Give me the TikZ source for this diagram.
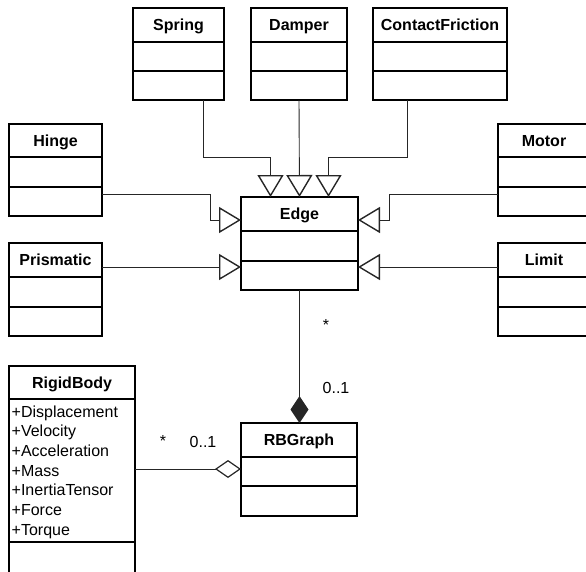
\documentclass[tikz,border=0pt]{standalone}
\usepackage{fontspec}
\setmainfont{Liberation Sans}
\usetikzlibrary{calc,arrows.meta}
\tikzset{
  clsbox/.style={draw, line width=1.5pt, inner sep=0pt, outer sep=0pt, anchor=north west},
  clsline/.style={line width=1.5pt},
  ttl/.style={font=\fontsize{16}{19}\selectfont\bfseries, inner sep=0pt, anchor=base},
  attr/.style={font=\fontsize{16}{19}\selectfont, inner sep=0pt, anchor=base west},
  mult/.style={font=\fontsize{16}{19}\selectfont, inner sep=0pt, anchor=base},
  conn/.style={line width=0.9pt, draw=black!85},
  gen/.style={conn, -{Triangle[open, length=22pt, width=26pt, line width=1.4pt]}},
  comp/.style={conn, -{Diamond[length=27pt, width=18pt, line width=1.2pt]}},
  aggr/.style={conn, -{Diamond[open, length=26pt, width=18pt, line width=1.2pt]}},
}
% name, x, y, w, h, d1, d2, title
\newcommand\umlcls[8]{%
  \node[clsbox, minimum width=#4, minimum height=#5] (#1) at (#2,#3) {};
  \node[ttl] (#1-t) at ($(#1.north)+(0,#6/2+5.8)$) {#8};
  \draw[clsline] ($(#1.north west)+(0,#6)$) -- ($(#1.north east)+(0,#6)$);
  \draw[clsline] ($(#1.north west)+(0,#7)$) -- ($(#1.north east)+(0,#7)$);
}
\begin{document}
\begin{tikzpicture}[x=1pt,y=-1pt]
\useasboundingbox (0,0) rectangle (586,571);
\umlcls{spring}{133}{8}{91}{92}{34}{63}{Spring}
\umlcls{damper}{251}{8}{96}{92}{34}{63}{Damper}
\umlcls{cf}{373}{8}{134}{92}{34}{63}{ContactFriction}
\umlcls{hinge}{9}{124}{93}{92}{33}{63}{Hinge}
\umlcls{motor}{498}{124}{92}{92}{33}{63}{Motor}
\umlcls{prism}{9}{243}{93}{93}{34}{64}{Prismatic}
\umlcls{limit}{498}{243}{92}{93}{34}{64}{Limit}
\umlcls{edge}{241}{197}{117}{93}{34}{64}{Edge}
\umlcls{rbg}{241}{423}{116}{93}{34}{63}{RBGraph}
\umlcls{rb}{9}{366}{126}{220}{33}{176}{RigidBody}

\node[attr] (a1) at ($(rb.north west)+(2.5,51)$) {+Displacement};
\node[attr] (a2) at ($(a1.base west)+(0,19.7)$) {+Velocity};
\node[attr] (a3) at ($(a2.base west)+(0,19.7)$) {+Acceleration};
\node[attr] (a4) at ($(a3.base west)+(0,19.7)$) {+Mass};
\node[attr] (a5) at ($(a4.base west)+(0,19.7)$) {+InertiaTensor};
\node[attr] (a6) at ($(a5.base west)+(0,19.7)$) {+Force};
\node[attr] (a7) at ($(a6.base west)+(0,19.7)$) {+Torque};

% generalizations
\coordinate (sp0) at ($(spring.south east)+(-21,0)$);
\coordinate (cf0) at ($(cf.south west)+(34,0)$);
\draw[gen] (sp0) |- ($(edge.north)+(-29,-40)$) -- ($(edge.north)+(-29,0)$);
\draw[gen] (damper.south) -- (edge.north);
\draw[gen] (cf0) |- ($(edge.north)+(29,-40)$) -- ($(edge.north)+(29,0)$);
\draw[gen] ($(hinge.north east)+(0,70)$) -- ++(108,0) |- ($(edge.north west)+(0,23)$);
\draw[gen] ($(motor.north west)+(0,70)$) -- ++(-109,0) |- ($(edge.north east)+(0,23)$);
\draw[gen] ($(prism.north east)+(0,24)$) -- ($(edge.north west)+(0,70)$);
\draw[gen] ($(limit.north west)+(0,24)$) -- ($(edge.north east)+(0,70)$);

% associations
\draw[comp] (edge.south) -- (edge.south |- rbg.north);
\draw[aggr] ($(rb.north east)+(0,103)$) -- ($(rbg.north west)+(0,46)$);

\node[mult] (m1) at (326,330) {*};
\node[mult] (m2) at (336,393) {0..1};
\node[mult] (m3) at (163,446) {*};
\node[mult] (m4) at (203,447) {0..1};
\end{tikzpicture}
\end{document}
